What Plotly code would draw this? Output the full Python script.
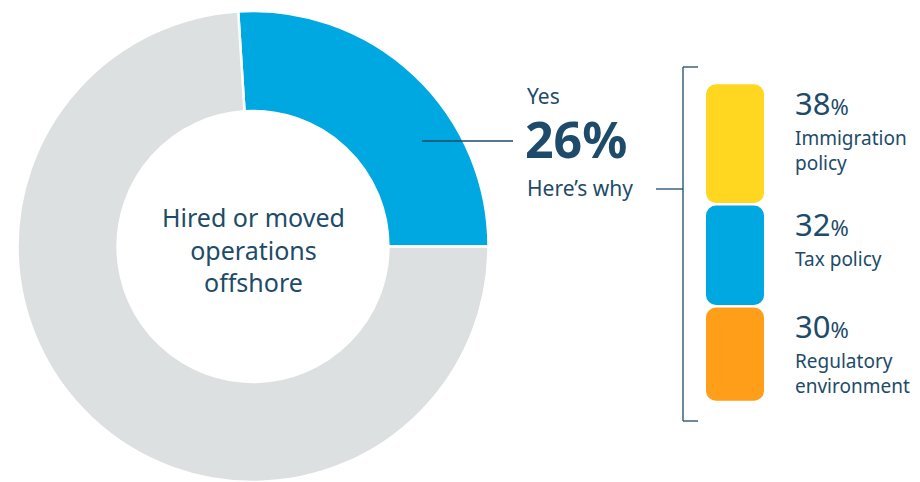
import plotly.graph_objects as go

# Data
donut_labels = ["Yes", "No"]
donut_values = [26, 74]
donut_colors = ["#00A8E1", "#DDE0E1"]

reason_labels = ["Immigration<br>policy", "Tax policy", "Regulatory<br>environment"]
reason_values = [38, 32, 30]
reason_colors = ["#FFD721", "#00A8E1", "#FF9E18"]

TEXT = "#1D4B69"
FONT = "Noto Sans"
W, H = 920, 482
MT = 11
PH = H - MT

def py(p):  # pixel y -> paper y
    return (H - p) / PH

fig = go.Figure()

fig.add_trace(go.Pie(
    labels=donut_labels, values=donut_values, sort=False, direction="clockwise",
    rotation=-3.6, hole=0.575, textinfo="none", hoverinfo="label+percent",
    marker=dict(colors=donut_colors, line=dict(color="white", width=2.5)),
    domain=dict(x=[0, 506 / W], y=[0, 1]), showlegend=False,
))

# stacked reason segments, each rounded at both ends (two overlapping halves)
gap = 0.8
delta = 4.5
start = 0
for lab, v, c in zip(reason_labels, reason_values, reason_colors):
    s = start + gap / 2
    e = start + v - gap / 2
    m = (s + e) / 2
    fig.add_trace(go.Bar(x=[0], y=[s - (m + delta)], base=[m + delta], width=1,
                         marker=dict(color=c, cornerradius=10, line=dict(width=0)),
                         xaxis="x2", yaxis="y2", showlegend=False, hoverinfo="skip"))
    fig.add_trace(go.Bar(x=[0], y=[e - (m - delta)], base=[m - delta], width=1,
                         marker=dict(color=c, cornerradius=10, line=dict(width=0)),
                         xaxis="x2", yaxis="y2", showlegend=False, hoverinfo="skip"))
    start += v

total = sum(reason_values)

annotations = []
start = 0
for lab, v in zip(reason_labels, reason_values):
    annotations.append(dict(
        x=793 / W, xref="paper", y=start, yref="y2", xanchor="left", yanchor="top",
        text=f"{v}<span style='font-size:22px'>%</span>", showarrow=False,
        font=dict(family=FONT, size=31, color=TEXT), yshift=3))
    annotations.append(dict(
        x=793 / W, xref="paper", y=start, yref="y2", xanchor="left", yanchor="top",
        text=lab, showarrow=False, align="left",
        font=dict(family=FONT, size=19, color=TEXT), yshift=-40))
    start += v

annotations += [
    dict(x=253 / W, y=py(249), xref="paper", yref="paper", xanchor="center", yanchor="middle",
         text="Hired or moved<br>operations<br>offshore",
         showarrow=False, font=dict(family=FONT, size=25, color=TEXT), align="center"),
    dict(x=525 / W, y=py(96), xref="paper", yref="paper", xanchor="left", yanchor="middle", text="Yes",
         showarrow=False, font=dict(family=FONT, size=21, color=TEXT), height=26),
    dict(x=523 / W, y=py(139), xref="paper", yref="paper", xanchor="left", yanchor="middle",
         text=f"<b>{donut_values[0]}%</b>", height=48,
         showarrow=False, font=dict(family=FONT, size=50, color=TEXT)),
    dict(x=525 / W, y=py(188), xref="paper", yref="paper", xanchor="left", yanchor="middle", text="Here’s why",
         showarrow=False, font=dict(family=FONT, size=21, color=TEXT), height=26),
]

line = dict(color=TEXT, width=1.3)
shapes = [
    dict(type="line", xref="paper", yref="paper", x0=422 / W, x1=513 / W, y0=py(141), y1=py(141), line=line),
    dict(type="line", xref="paper", yref="paper", x0=656 / W, x1=683 / W, y0=py(189), y1=py(189), line=line),
    dict(type="line", xref="paper", yref="paper", x0=683 / W, x1=683 / W, y0=py(67), y1=py(421), line=line),
    dict(type="line", xref="paper", yref="paper", x0=683 / W, x1=698 / W, y0=py(67), y1=py(67), line=line),
    dict(type="line", xref="paper", yref="paper", x0=683 / W, x1=698 / W, y0=py(421), y1=py(421), line=line),
]

fig.update_layout(
    width=W, height=H, margin=dict(l=0, r=0, t=MT, b=0, pad=0),
    paper_bgcolor="white", plot_bgcolor="white", barmode="overlay",
    xaxis2=dict(domain=[706 / W, 764 / W], range=[-0.5, 0.5], visible=False, fixedrange=True),
    yaxis2=dict(domain=[py(402), py(83)], range=[total, 0], visible=False, fixedrange=True, anchor="x2"),
    annotations=annotations, shapes=shapes,
    font=dict(family=FONT, color=TEXT),
)

fig.write_html("out.html")
